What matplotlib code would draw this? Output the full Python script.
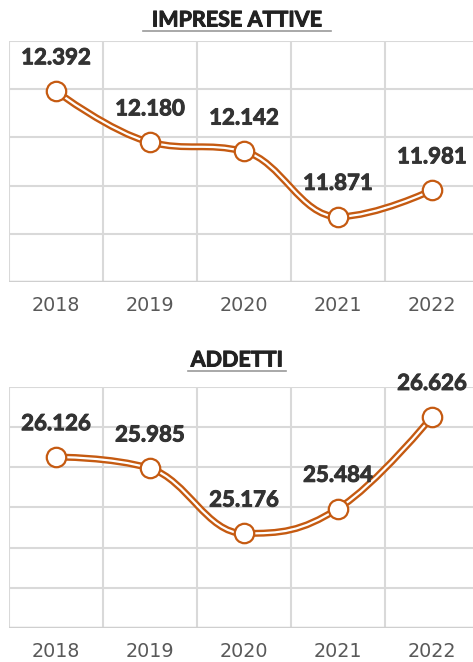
# Two smoothed line charts: active firms and employees, 2018-2022

import numpy as np
import matplotlib.pyplot as plt
import matplotlib.patheffects as pe
from matplotlib.path import Path
from matplotlib.patches import PathPatch

plt.rcParams['font.family'] = ['Lato', 'DejaVu Sans']

years = ['2018', '2019', '2020', '2021', '2022']
imprese = [12392, 12180, 12142, 11871, 11981]
addetti = [26126, 25985, 25176, 25484, 26626]

ORANGE = '#C55A11'
GRID = '#d9d9d9'
LABEL = '#333333'
TICK = '#595959'


def spline_path(xs, ys, smoothing=1.5):
    """Bezier path through the points, control points picked the Highcharts
    'spline' way (flattened at local extremes)."""
    n = len(xs)
    left = [(x, y) for x, y in zip(xs, ys)]
    right = [(x, y) for x, y in zip(xs, ys)]
    denom = smoothing + 1
    for i in range(1, n - 1):
        x, y = xs[i], ys[i]
        lx, ly = xs[i - 1], ys[i - 1]
        nx, ny = xs[i + 1], ys[i + 1]
        lcx = (smoothing * x + lx) / denom
        lcy = (smoothing * y + ly) / denom
        rcx = (smoothing * x + nx) / denom
        rcy = (smoothing * y + ny) / denom
        corr = (rcy - lcy) * (rcx - x) / (rcx - lcx) + y - rcy
        lcy += corr
        rcy += corr
        if lcy > ly and lcy > y:
            lcy = max(ly, y)
            rcy = 2 * y - lcy
        elif lcy < ly and lcy < y:
            lcy = min(ly, y)
            rcy = 2 * y - lcy
        if rcy > ny and rcy > y:
            rcy = max(ny, y)
            lcy = 2 * y - rcy
        elif rcy < ny and rcy < y:
            rcy = min(ny, y)
            lcy = 2 * y - rcy
        left[i] = (lcx, lcy)
        right[i] = (rcx, rcy)
    verts = [(xs[0], ys[0])]
    codes = [Path.MOVETO]
    for i in range(1, n):
        verts += [right[i - 1], left[i], (xs[i], ys[i])]
        codes += [Path.CURVE4] * 3
    return Path(verts, codes)


def fmt(v):
    return f'{v:,}'.replace(',', '.')


def heavy(color, w=0.7):
    return [pe.withStroke(linewidth=w, foreground=color)]


def draw_panel(ax, values, ymin, ymax, step):
    x = np.arange(len(years))
    ax.set_xlim(-0.5, len(years) - 0.5)
    ax.set_ylim(ymin, ymax)

    # grid: horizontal at each step, vertical between categories
    for yv in np.arange(ymin + step, ymax + step / 2, step):
        ax.axhline(yv, color=GRID, lw=1.5, zorder=0)
    for xv in np.arange(-0.5, len(years), 1.0):
        ax.axvline(xv, color=GRID, lw=1.5, zorder=0)
    ax.axhline(ymin, color='#cfcfcf', lw=2.5, zorder=1)

    path = spline_path(list(x.astype(float)), list(values))
    ax.add_patch(PathPatch(path, fill=False, edgecolor=ORANGE, lw=5.0,
                           capstyle='round', joinstyle='round', zorder=2))
    ax.add_patch(PathPatch(path, fill=False, edgecolor='white', lw=1.6,
                           capstyle='round', joinstyle='round', zorder=3))
    ax.plot(x, values, 'o', ms=14, mfc='white', mec=ORANGE, mew=1.6, zorder=4)

    for xi, v in zip(x, values):
        ax.annotate(fmt(v), (xi, v), xytext=(0, 24), textcoords='offset points',
                    ha='center', va='center', fontsize=16, fontweight='bold',
                    color=LABEL, zorder=5, annotation_clip=False,
                    path_effects=heavy(LABEL))

    ax.set_xticks(x)
    ax.set_xticklabels(years, fontsize=13.8, color=TICK, family='DejaVu Sans')
    ax.tick_params(axis='x', length=0, pad=10)
    ax.set_yticks([])
    for s in ax.spines.values():
        s.set_visible(False)
    return ax


fig = plt.figure(figsize=(4.73, 6.62), dpi=100)
W, H = 473, 662

ax1 = fig.add_axes([9 / W, (H - 282) / H, 470 / W, 241 / H])
draw_panel(ax1, imprese, 11600, 12600, 200)

ax2 = fig.add_axes([9 / W, (H - 628) / H, 470 / W, 241.3 / H])
draw_panel(ax2, addetti, 24000, 27000, 500)

# underlined titles
for title, yc, yu, half in [('IMPRESE ATTIVE', 20, 31, 94), ('ADDETTI', 360, 371, 49)]:
    fig.text(237 / W, 1 - yc / H, title, ha='center', va='center',
             fontsize=15.5, fontweight='bold', color='#222222',
             path_effects=heavy('#222222'))
    fig.add_artist(plt.Line2D([(237 - half) / W, (237 + half) / W],
                              [1 - yu / H, 1 - yu / H], color='#9a9a9a', lw=1.2))

fig.savefig('out.png', dpi=100)
